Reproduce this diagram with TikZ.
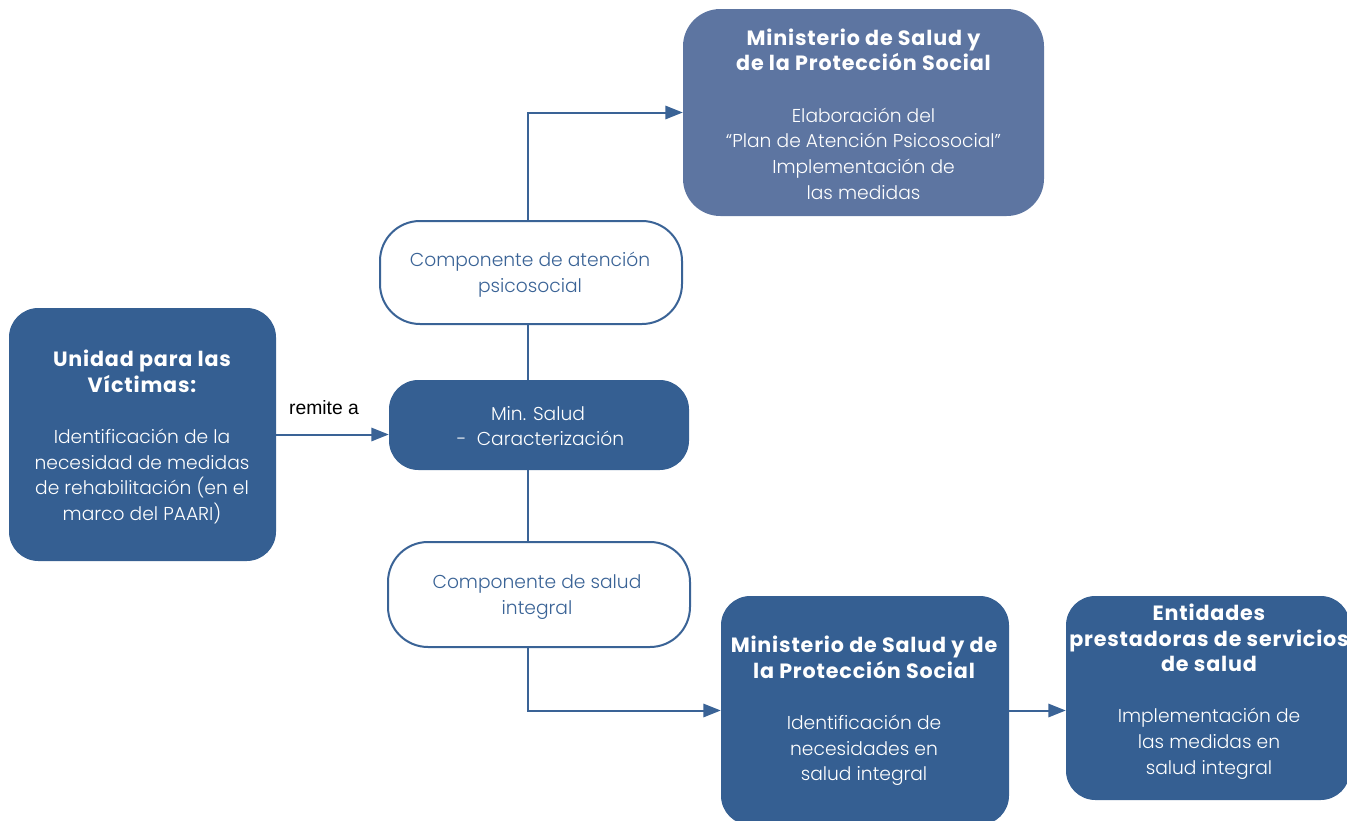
\documentclass[tikz,border=0pt]{standalone}
\usepackage{fontspec}
\setmainfont{Poppins}
\newfontfamily\ltf{Poppins Light}
\newfontfamily\bdf{Poppins}[LetterSpace=4]
\newfontfamily\arialf{Liberation Sans}
\usetikzlibrary{arrows.meta}
\definecolor{dblue}{HTML}{355F92}
\definecolor{lblue}{HTML}{5D75A1}
\definecolor{bblue}{HTML}{3A6396}
\tikzset{
  dbox/.style={fill=dblue, draw=none, rounded corners=22pt, inner sep=0pt},
  lbox/.style={fill=lblue, draw=none, rounded corners=28pt, inner sep=0pt},
  wbox/.style={fill=white, draw=bblue, line width=1.5pt, rounded corners=30pt, inner sep=0pt},
  txt/.style={text=white, align=center, font=\fontsize{14}{19.3}\selectfont\ltf, inner sep=0pt},
  btxt/.style={text=bblue, align=center, font=\fontsize{14}{19.3}\selectfont\ltf, inner sep=0pt},
  conn/.style={draw=bblue, line width=1.5pt},
  arr/.style={conn, -{Triangle[length=13pt,width=10pt]}}
}
\newcommand{\hdr}[1]{{\fontsize{15.5}{19}\selectfont\bdf\bfseries #1}}
\begin{document}
\begin{tikzpicture}[x=0.75pt,y=-0.75pt]
\useasboundingbox (0,0) rectangle (1347,821);
\clip (0,0) rectangle (1347,821);
\coordinate (vx) at (528,0);
% boxes
\node[lbox, minimum width=270.75pt, minimum height=155.25pt] (mtop) at (863.5,112.5) {};
\node[wbox, minimum width=226.5pt, minimum height=77.25pt] (catn) at (531,272.5) {};
\node[dbox, minimum width=200.25pt, minimum height=189.75pt] (unid) at (142.5,434.5) {};
\node[dbox, minimum width=225pt, minimum height=67.5pt] (msal) at (539,425) {};
\node[wbox, minimum width=226.5pt, minimum height=78.75pt] (csal) at (539,594.5) {};
\node[dbox, minimum width=216pt, minimum height=171.75pt] (mbot) at (865,710.5) {};
\node[dbox, minimum width=213pt, minimum height=153pt] (ent) at (1208,698) {};
% texts
\node[txt] (tmtop) at (863.5,114) {\hdr{Ministerio de Salud y}\\\hdr{de la Protección Social}\\[19pt]Elaboración del\\“Plan de Atención Psicosocial”\\Implementación de\\las medidas};
\node[btxt] (tcatn) at (530,275) {Componente de atención\\psicosocial};
\node[txt] (tunid) at (142,437) {\hdr{Unidad para las}\\\hdr{Víctimas:}\\[19pt]Identificación de la\\necesidad de medidas\\de rehabilitación (en el\\marco del PAARI)};
\node[txt] (tmsal) at (538,426) {Min. Salud\\\ -\ \ Caracterización};
\node[btxt] (tcsal) at (537,597) {Componente de salud\\integral};
\node[txt] (tmbot) at (864,711) {\hdr{Ministerio de Salud y de}\\\hdr{la Protección Social}\\[19pt]Identificación de\\necesidades en\\salud integral};
\node[txt] (tent) at (1209,691.5) {\hdr{Entidades}\\\hdr{prestadoras de servicios}\\\hdr{de salud}\\[19pt]Implementación de\\las medidas en\\salud integral};
% connectors
\draw[arr] (catn.north -| vx) |- (mtop.west);
\draw[conn] (catn.south -| vx) -- (msal.north -| vx);
\draw[conn] (msal.south -| vx) -- (csal.north -| vx);
\draw[arr] (csal.south -| vx) |- (mbot.west);
\draw[arr] (unid.east) -- (unid.east -| msal.west);
\node[text=black, font=\fontsize{14.5}{16}\selectfont\arialf, inner sep=0pt] (lrem) at (324,408) {remite a};
\draw[arr] (mbot.east) -- (mbot.east -| ent.west);
\end{tikzpicture}
\end{document}
